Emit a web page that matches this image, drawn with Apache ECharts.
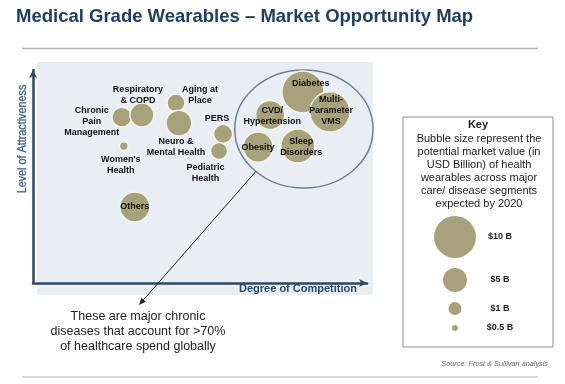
<!DOCTYPE html>
<html><head><meta charset="utf-8">
<script src="https://cdn.jsdelivr.net/npm/echarts@6/dist/echarts.min.js"></script>
<style>html,body{margin:0;padding:0;background:#fff}#c{width:565px;height:384px}</style>
</head><body><div id="c"></div>
<script>
// ---- data ----
const segments = ['Chronic\nPain\nManagement','Respiratory\n& COPD','Aging at\nPlace','Neuro &\nMental Health',"Women's\nHealth",'PERS','Pediatric\nHealth','Others','Diabetes','Multi-\nParameter\nVMS','CVD/\nHypertension','Obesity','Sleep\nDisorders'];
const competition    = [26.6, 32.6, 42.8, 43.7, 27.2, 56.9, 55.7, 30.5, 80.8, 88.9, 71.0, 67.4, 79.3];
const attractiveness = [77.9, 78.9, 84.5, 75.1, 64.3, 70.0, 62.0, 35.7, 89.7, 80.3, 78.9, 63.8, 64.3];
const marketValueB   = [3.5, 5, 2.8, 5.5, 0.7, 3.2, 2.5, 6.7, 10, 9.5, 6.4, 6.7, 7.8];
const keyValues = [10, 5, 1, 0.5];
const keyLabels = ['$10 B', '$5 B', '$1 B', '$0.5 B'];
const chronicGroup = {competition: 81.1, attractiveness: 72.3, spreadX: 20.7, spreadY: 27.7};

// ---- styling / layout (not data) ----
const FONT = 'Liberation Sans, Arial, sans-serif';
const OLIVE = '#a7a27b';
const sizeStops = [[0.5, 6], [1, 13], [5, 24], [10, 42]]; // value -> diameter, from the key
function sizeOf(v) {
  if (v <= sizeStops[0][0]) return sizeStops[0][1];
  for (let i = 1; i < sizeStops.length; i++) {
    const [v0, s0] = sizeStops[i - 1], [v1, s1] = sizeStops[i];
    if (v <= v1) return s0 + (v - v0) / (v1 - v0) * (s1 - s0);
  }
  return sizeStops[sizeStops.length - 1][1];
}
const labelOffset = [[-30,4],[-4,-19.5],[24,-8],[-3,23.5],[-3,18.5],[-6,-15],[-13.5,22.5],[0,0],[8,-8],[1,-1],[2,1],[0,0],[3.5,1]];

const mainData = segments.map((s, i) => ({
  name: s,
  value: [competition[i], attractiveness[i], marketValueB[i]],
  symbolSize: sizeOf(marketValueB[i]),
  label: {offset: labelOffset[i]}
}));

// key layout: stack bubbles vertically
const keyData = [];
let yCur = 120, prevR = null;
keyValues.forEach((v, i) => {
  const r = sizeOf(v) / 2;
  if (prevR !== null) yCur += prevR + r + 10;
  keyData.push({name: keyLabels[i], value: [52, yCur, v], symbolSize: sizeOf(v)});
  prevR = r;
});

const chart = echarts.init(document.getElementById('c'), null, {renderer: 'canvas'});
const axisCol = '#2c4a68';
chart.setOption({
  animation: false,
  grid: [
    {left: 33, top: 70, width: 334, height: 213},
    {left: 403, top: 117, width: 150, height: 230}
  ],
  xAxis: [
    {gridIndex: 0, type: 'value', min: 0, max: 100,
     axisLine: {show: true, lineStyle: {color: axisCol, width: 2.5}, symbol: ['none', 'arrow'], symbolSize: [6, 8]},
     axisTick: {show: false}, axisLabel: {show: false}, splitLine: {show: false}},
    {gridIndex: 1, type: 'value', min: 0, max: 150, show: false}
  ],
  yAxis: [
    {gridIndex: 0, type: 'value', min: 0, max: 100,
     axisLine: {show: true, lineStyle: {color: axisCol, width: 2.5}, symbol: ['none', 'arrow'], symbolSize: [6, 8]},
     axisTick: {show: false}, axisLabel: {show: false}, splitLine: {show: false}},
    {gridIndex: 1, type: 'value', min: 0, max: 230, inverse: true, show: false}
  ],
  series: [
    {type: 'scatter', xAxisIndex: 0, yAxisIndex: 0, data: mainData, z: 3,
     itemStyle: {color: OLIVE, borderColor: '#f7f5ea', borderWidth: 1.5, opacity: 1},
     label: {show: true, position: 'inside', formatter: p => p.name, color: '#111',
             fontFamily: FONT, fontWeight: 'bold', fontSize: 9, lineHeight: 11, align: 'center'},
     emphasis: {disabled: true}},
    {type: 'scatter', xAxisIndex: 1, yAxisIndex: 1, data: keyData, z: 3,
     itemStyle: {color: OLIVE, opacity: 1},
     label: {show: true, position: 'inside', offset: [45, 0], formatter: p => p.name, color: '#222',
             fontFamily: FONT, fontWeight: 'bold', fontSize: 9, align: 'center'},
     emphasis: {disabled: true}}
  ]
});

// annotation graphics
const c = chart.convertToPixel({gridIndex: 0}, [chronicGroup.competition, chronicGroup.attractiveness]);
const e2 = chart.convertToPixel({gridIndex: 0}, [chronicGroup.competition + chronicGroup.spreadX, chronicGroup.attractiveness + chronicGroup.spreadY]);
const rx = Math.abs(e2[0] - c[0]), ry = Math.abs(e2[1] - c[1]);
const ang = 134 * Math.PI / 180;
const start = [c[0] + rx * Math.cos(ang), c[1] + ry * Math.sin(ang)];
const tip = [139, 305];
const dx = tip[0] - start[0], dy = tip[1] - start[1], L = Math.hypot(dx, dy);
const u = [dx / L, dy / L], n = [u[1], -u[0]];
const ah = 7, aw = 3;

chart.setOption({graphic: {elements: [
  {type: 'rect', shape: {x: 37, y: 62, width: 336, height: 233}, style: {fill: '#e9eef4'}, z: -10, silent: true},
  {type: 'text', x: 16, y: 17, style: {text: 'Medical Grade Wearables \u2013 Market Opportunity Map', font: 'bold 18.5px ' + FONT, fill: '#1d3f66', verticalAlign: 'middle'}},
  {type: 'line', shape: {x1: 22, y1: 48.5, x2: 538, y2: 48.5}, style: {stroke: '#b5b5b5', lineWidth: 1.5}},
  {type: 'line', shape: {x1: 22, y1: 377, x2: 538, y2: 377}, style: {stroke: '#c8c8c8', lineWidth: 1.5}},
  {type: 'text', x: 23, y: 139, rotation: Math.PI / 2, scaleX: 0.9, style: {text: 'Level of Attractiveness', font: '12px ' + FONT, fill: '#3d6189', align: 'center', verticalAlign: 'middle', stroke: '#3d6189', lineWidth: 0.3}},
  {type: 'text', x: 357, y: 288.5, style: {text: 'Degree of Competition', font: 'bold 11px ' + FONT, fill: '#264a70', align: 'right', verticalAlign: 'middle'}},
  {type: 'ellipse', shape: {cx: c[0], cy: c[1], rx: rx, ry: ry}, style: {fill: 'none', stroke: '#6f8093', lineWidth: 1.5}, z: 1},
  {type: 'line', shape: {x1: start[0], y1: start[1], x2: tip[0] - u[0] * 3, y2: tip[1] - u[1] * 3}, style: {stroke: '#222', lineWidth: 1}, z: 5},
  {type: 'polygon', shape: {points: [tip, [tip[0] - ah * u[0] + aw * n[0], tip[1] - ah * u[1] + aw * n[1]], [tip[0] - ah * u[0] - aw * n[0], tip[1] - ah * u[1] - aw * n[1]]]}, style: {fill: '#222'}, z: 5},
  {type: 'text', x: 138, y: 332, style: {text: 'These are major chronic\ndiseases that account for >70%\nof healthcare spend globally', font: '12.5px ' + FONT, fill: '#222', align: 'center', verticalAlign: 'middle', lineHeight: 15}},
  {type: 'rect', shape: {x: 403, y: 117, width: 150, height: 230}, style: {fill: 'none', stroke: '#8c8c8c', lineWidth: 1}, z: 1},
  {type: 'text', x: 478, y: 125, style: {text: 'Key', font: 'bold 11px ' + FONT, fill: '#222', align: 'center', verticalAlign: 'middle'}},
  {type: 'text', x: 479, y: 171.5, style: {text: 'Bubble size represent the\npotential market value (in\nUSD Billion) of health\nwearables across major\ncare/ disease segments\nexpected by 2020', font: '11px ' + FONT, fill: '#222', align: 'center', verticalAlign: 'middle', lineHeight: 13}},
  {type: 'text', x: 548, y: 364, style: {text: 'Source: Frost & Sullivan analysis', font: 'italic 7.3px ' + FONT, fill: '#666', align: 'right', verticalAlign: 'middle'}}
]}});
</script></body></html>
